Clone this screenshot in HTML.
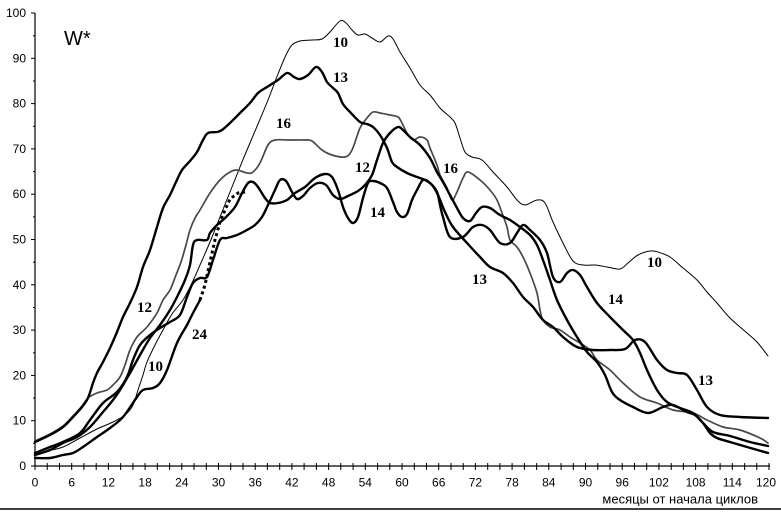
<!DOCTYPE html>
<html>
<head>
<meta charset="utf-8">
<style>
html,body{margin:0;padding:0;background:#fff;}
svg{display:block;}
.ax{font-family:"Liberation Sans",sans-serif;font-size:12px;fill:#000;}
.lb{font-family:"Liberation Serif",serif;font-size:15px;font-weight:bold;fill:#000;}
</style>
</head>
<body>
<svg id="chart" width="781" height="514" viewBox="0 0 781 514" xmlns="http://www.w3.org/2000/svg">
<rect width="781" height="514" fill="#fff"/>

<!-- axes -->
<line x1="35" y1="13" x2="35" y2="466.5" stroke="#000" stroke-width="1.2"/>
<line x1="35" y1="466" x2="770" y2="466" stroke="#000" stroke-width="1.2"/>
<line x1="0" y1="509" x2="781" y2="509" stroke="#000" stroke-width="1.5"/>

<!-- y ticks -->
<g stroke="#000" stroke-width="1">
<line x1="31" y1="13" x2="35" y2="13"/>
<line x1="33" y1="35.7" x2="35" y2="35.7"/>
<line x1="31" y1="58.3" x2="35" y2="58.3"/>
<line x1="33" y1="81" x2="35" y2="81"/>
<line x1="31" y1="103.6" x2="35" y2="103.6"/>
<line x1="33" y1="126.3" x2="35" y2="126.3"/>
<line x1="31" y1="148.9" x2="35" y2="148.9"/>
<line x1="33" y1="171.6" x2="35" y2="171.6"/>
<line x1="31" y1="194.2" x2="35" y2="194.2"/>
<line x1="33" y1="216.9" x2="35" y2="216.9"/>
<line x1="31" y1="239.5" x2="35" y2="239.5"/>
<line x1="33" y1="262.2" x2="35" y2="262.2"/>
<line x1="31" y1="284.8" x2="35" y2="284.8"/>
<line x1="33" y1="307.5" x2="35" y2="307.5"/>
<line x1="31" y1="330.1" x2="35" y2="330.1"/>
<line x1="33" y1="352.8" x2="35" y2="352.8"/>
<line x1="31" y1="375.4" x2="35" y2="375.4"/>
<line x1="33" y1="398.1" x2="35" y2="398.1"/>
<line x1="31" y1="420.7" x2="35" y2="420.7"/>
<line x1="33" y1="443.4" x2="35" y2="443.4"/>
<line x1="31" y1="466" x2="35" y2="466"/>
</g>
<g class="ax" text-anchor="end">
<text x="26" y="17">100</text>
<text x="26" y="62.3">90</text>
<text x="26" y="107.6">80</text>
<text x="26" y="152.9">70</text>
<text x="26" y="198.2">60</text>
<text x="26" y="243.5">50</text>
<text x="26" y="288.8">40</text>
<text x="26" y="334.1">30</text>
<text x="26" y="379.4">20</text>
<text x="26" y="424.7">10</text>
<text x="26" y="470">0</text>
</g>

<!-- x ticks every 2 months -->
<g stroke="#000" stroke-width="1">
<line x1="35" y1="463" x2="35" y2="470"/><line x1="47.2" y1="463" x2="47.2" y2="470"/><line x1="59.5" y1="463" x2="59.5" y2="470"/><line x1="71.7" y1="463" x2="71.7" y2="470"/><line x1="83.9" y1="463" x2="83.9" y2="470"/><line x1="96.2" y1="463" x2="96.2" y2="470"/><line x1="108.4" y1="463" x2="108.4" y2="470"/><line x1="120.6" y1="463" x2="120.6" y2="470"/><line x1="132.9" y1="463" x2="132.9" y2="470"/><line x1="145.1" y1="463" x2="145.1" y2="470"/><line x1="157.3" y1="463" x2="157.3" y2="470"/><line x1="169.6" y1="463" x2="169.6" y2="470"/><line x1="181.8" y1="463" x2="181.8" y2="470"/><line x1="194" y1="463" x2="194" y2="470"/><line x1="206.3" y1="463" x2="206.3" y2="470"/><line x1="218.5" y1="463" x2="218.5" y2="470"/><line x1="230.7" y1="463" x2="230.7" y2="470"/><line x1="243" y1="463" x2="243" y2="470"/><line x1="255.2" y1="463" x2="255.2" y2="470"/><line x1="267.4" y1="463" x2="267.4" y2="470"/><line x1="279.7" y1="463" x2="279.7" y2="470"/><line x1="291.9" y1="463" x2="291.9" y2="470"/><line x1="304.1" y1="463" x2="304.1" y2="470"/><line x1="316.4" y1="463" x2="316.4" y2="470"/><line x1="328.6" y1="463" x2="328.6" y2="470"/><line x1="340.8" y1="463" x2="340.8" y2="470"/><line x1="353.1" y1="463" x2="353.1" y2="470"/><line x1="365.3" y1="463" x2="365.3" y2="470"/><line x1="377.6" y1="463" x2="377.6" y2="470"/><line x1="389.8" y1="463" x2="389.8" y2="470"/><line x1="402" y1="463" x2="402" y2="470"/><line x1="414.3" y1="463" x2="414.3" y2="470"/><line x1="426.5" y1="463" x2="426.5" y2="470"/><line x1="438.7" y1="463" x2="438.7" y2="470"/><line x1="451" y1="463" x2="451" y2="470"/><line x1="463.2" y1="463" x2="463.2" y2="470"/><line x1="475.4" y1="463" x2="475.4" y2="470"/><line x1="487.7" y1="463" x2="487.7" y2="470"/><line x1="499.9" y1="463" x2="499.9" y2="470"/><line x1="512.1" y1="463" x2="512.1" y2="470"/><line x1="524.4" y1="463" x2="524.4" y2="470"/><line x1="536.6" y1="463" x2="536.6" y2="470"/><line x1="548.8" y1="463" x2="548.8" y2="470"/><line x1="561.1" y1="463" x2="561.1" y2="470"/><line x1="573.3" y1="463" x2="573.3" y2="470"/><line x1="585.5" y1="463" x2="585.5" y2="470"/><line x1="597.8" y1="463" x2="597.8" y2="470"/><line x1="610" y1="463" x2="610" y2="470"/><line x1="622.2" y1="463" x2="622.2" y2="470"/><line x1="634.5" y1="463" x2="634.5" y2="470"/><line x1="646.7" y1="463" x2="646.7" y2="470"/><line x1="658.9" y1="463" x2="658.9" y2="470"/><line x1="671.2" y1="463" x2="671.2" y2="470"/><line x1="683.4" y1="463" x2="683.4" y2="470"/><line x1="695.6" y1="463" x2="695.6" y2="470"/><line x1="707.9" y1="463" x2="707.9" y2="470"/><line x1="720.1" y1="463" x2="720.1" y2="470"/><line x1="732.3" y1="463" x2="732.3" y2="470"/><line x1="744.6" y1="463" x2="744.6" y2="470"/><line x1="756.8" y1="463" x2="756.8" y2="470"/><line x1="769" y1="463" x2="769" y2="470"/>
</g>
<g class="ax" text-anchor="middle">
<text x="35" y="486.5">0</text>
<text x="71.7" y="486.5">6</text>
<text x="108.4" y="486.5">12</text>
<text x="145.1" y="486.5">18</text>
<text x="181.8" y="486.5">24</text>
<text x="218.5" y="486.5">30</text>
<text x="255.2" y="486.5">36</text>
<text x="291.9" y="486.5">42</text>
<text x="328.6" y="486.5">48</text>
<text x="365.3" y="486.5">54</text>
<text x="402" y="486.5">60</text>
<text x="438.7" y="486.5">66</text>
<text x="475.4" y="486.5">72</text>
<text x="512.1" y="486.5">78</text>
<text x="548.8" y="486.5">84</text>
<text x="585.5" y="486.5">90</text>
<text x="622.2" y="486.5">96</text>
<text x="658.9" y="486.5">102</text>
<text x="695.6" y="486.5">108</text>
<text x="732.3" y="486.5">114</text>
<text x="766" y="486.5">120</text>
</g>
<text class="ax" x="758" y="503.5" text-anchor="end" style="font-size:13px">месяцы от начала циклов</text>

<text x="64" y="45" style="font-family:'Liberation Sans',sans-serif;font-size:20px;fill:#000">W*</text>

<g fill="none" stroke-linejoin="round" stroke-linecap="round">
<!-- cycle 10 thin -->
<polyline class="sm" stroke="#000" stroke-width="1" points="35,454 47,451 63,447 80,438 97,429 113,422 125,415 133,405 138,390 143,375 147,362 155,345 163,330 172,314 183,300 192,283 200,265 210,242 220,217 230,192 240,167 247,150 258,124 268,100 278,74 286,55 292,45 300,41 312,40 322,39 330,32 340,21 346,23 352,30 358,35 365,34 372,38 380,42 388,36 393,39 400,52 410,68 420,85 430,95 440,108 450,117 455,123 460,138 465,152 472,157 482,160 493,172 507,187 517,200 525,205 537,200 545,203 553,222 563,243 573,261 583,265 595,265 607,267 620,269 628,263 638,255 650,251 658,252 670,257 683,268 697,280 707,292 717,303 730,318 747,333 757,342 768,356"/>

<!-- cycle 16 gray -->
<polyline class="sm" stroke="#484848" stroke-width="1.7" points="35,441 50,434 63,426 73,416 82,406 88,398 97,393 107,390 113,385 120,377 125,365 130,350 137,337 147,327 157,313 163,300 170,290 176,275 181,262 186,245 190,230 195,218 200,210 210,193 220,180 230,172 237,170 247,173 253,172 260,163 268,145 275,140 288,140 305,140 312,141 322,150 332,155 345,157 352,150 360,128 367,118 373,112 380,113 390,115 398,117 402,123 407,133 413,140 420,137 427,140 430,148 437,165 440,175 447,188 452,200 457,192 463,178 468,172 480,180 490,190 497,200 502,213 507,227 510,240 517,247 523,257 530,273 537,293 540,310 543,320 550,327 560,330 570,337 580,343 590,350 597,360 610,370 623,383 640,397 657,403 673,410 693,413 707,420 723,427 740,430 760,438 768,443"/>

<!-- cycle 13 thick -->
<polyline class="sm" stroke="#000" stroke-width="2.4" points="35,442 50,435 63,427 73,417 82,407 88,398 93,383 97,373 103,362 110,348 117,332 123,317 130,303 137,287 143,267 150,250 157,227 163,208 170,195 176,182 182,170 190,161 197,152 203,140 208,133 217,132 222,130 230,123 240,113 250,103 258,93 267,87 278,80 287,73 294,77 300,79 308,75 316,67 322,72 327,82 333,88 338,93 343,104 350,112 360,122 367,124 373,127 380,135 387,148 392,162 397,167 407,173 417,177 425,180 432,185 438,195 445,212 453,227 467,243 480,257 490,267 503,273 513,283 523,297 533,307 543,320 553,327 563,337 577,347 593,350 610,350 625,349 635,340 645,342 657,360 667,370 677,373 687,375 697,390 707,407 720,415 740,417 768,418"/>

<!-- cycle 12 thick -->
<polyline class="sm" stroke="#000" stroke-width="2.4" points="35,453 50,447 63,442 80,433 90,420 103,403 117,392 127,377 133,360 140,345 150,335 160,328 170,322 180,315 187,297 193,283 200,278 207,277 213,260 220,240 227,238 237,235 247,230 255,225 262,217 268,205 275,190 280,180 286,181 292,192 297,199 303,196 310,188 318,183 326,185 333,195 340,199 348,196 358,191 365,185 372,175 377,160 383,143 390,133 398,127 403,130 410,137 420,145 430,158 437,172 443,182 450,195 457,208 463,218 470,221 476,213 482,207 490,208 500,215 510,220 520,227 530,235 537,245 543,260 550,280 557,300 567,320 577,337 587,352 597,362 605,375 612,392 620,400 633,407 648,413 663,407 673,405 687,412 695,415 703,423 710,433 717,438 730,442 747,447 768,453"/>

<!-- cycle 14 thick -->
<polyline class="sm" stroke="#000" stroke-width="2.4" points="35,455 50,450 63,443 77,437 90,427 103,412 113,400 120,390 130,373 140,355 150,338 160,325 170,310 178,295 185,280 190,265 193,245 197,240 207,240 210,233 217,225 225,218 235,207 242,193 248,183 253,182 258,187 265,198 270,203 278,203 287,200 295,193 305,187 315,178 325,174 332,177 338,190 343,207 348,218 353,223 358,217 363,198 368,183 373,181 380,183 387,188 393,202 397,212 402,217 407,214 412,200 417,190 423,180 430,183 437,192 440,205 443,217 450,237 463,237 473,227 482,225 490,230 500,243 510,243 517,233 523,225 530,230 540,240 547,253 553,277 560,282 567,273 573,270 580,275 587,287 597,303 610,317 623,330 633,340 640,353 647,370 657,390 667,402 680,408 693,413 703,423 713,432 730,436 750,442 768,446"/>

<!-- cycle 24 solid part -->
<polyline class="sm" stroke="#000" stroke-width="2.4" points="35,458 50,458 63,455 73,453 83,447 97,437 110,428 123,417 137,397 143,390 153,388 160,383 167,370 177,343 187,325 193,313 200,300"/>
<!-- cycle 24 dotted part -->
<polyline stroke="#000" stroke-width="3" stroke-linecap="butt" stroke-dasharray="3 3" points="200,300 205,285 210,262 215,240 220,222 225,210 230,199 238,193 245,192"/>
</g>

<!-- curve labels -->
<g class="lb">
<text x="333" y="47">10</text>
<text x="333" y="82">13</text>
<text x="276" y="128">16</text>
<text x="355" y="172">12</text>
<text x="370" y="217">14</text>
<text x="443" y="173">16</text>
<text x="472" y="284">13</text>
<text x="608" y="304">14</text>
<text x="647" y="267">10</text>
<text x="698" y="385">13</text>
<text x="137" y="312">12</text>
<text x="192" y="339">24</text>
<text x="148" y="371">10</text>
</g>
</svg>
<script>
(function(){
  try{
    var ns="http://www.w3.org/2000/svg";
    var pls=document.querySelectorAll("polyline.sm");
    for(var k=0;k<pls.length;k++){
      var pl=pls[k];
      var raw=pl.getAttribute("points").trim().split(/\s+/);
      var p=[];
      for(var i=0;i<raw.length;i++){var c=raw[i].split(",");p.push([+c[0],+c[1]]);}
      if(p.length<3)continue;
      var d="M"+p[0][0]+","+p[0][1];
      for(var i=0;i<p.length-1;i++){
        var p0=p[i>0?i-1:i],p1=p[i],p2=p[i+1],p3=p[i+2<p.length?i+2:i+1];
        var c1x=p1[0]+(p2[0]-p0[0])/6,c1y=p1[1]+(p2[1]-p0[1])/6;
        var c2x=p2[0]-(p3[0]-p1[0])/6,c2y=p2[1]-(p3[1]-p1[1])/6;
        d+=" C"+c1x.toFixed(2)+","+c1y.toFixed(2)+" "+c2x.toFixed(2)+","+c2y.toFixed(2)+" "+p2[0]+","+p2[1];
      }
      var path=document.createElementNS(ns,"path");
      path.setAttribute("d",d);
      path.setAttribute("fill","none");
      path.setAttribute("stroke",pl.getAttribute("stroke"));
      path.setAttribute("stroke-width",pl.getAttribute("stroke-width"));
      path.setAttribute("stroke-linejoin","round");
      path.setAttribute("stroke-linecap","round");
      pl.parentNode.replaceChild(path,pl);
    }
  }catch(e){}
})();
</script>
</body>
</html>
